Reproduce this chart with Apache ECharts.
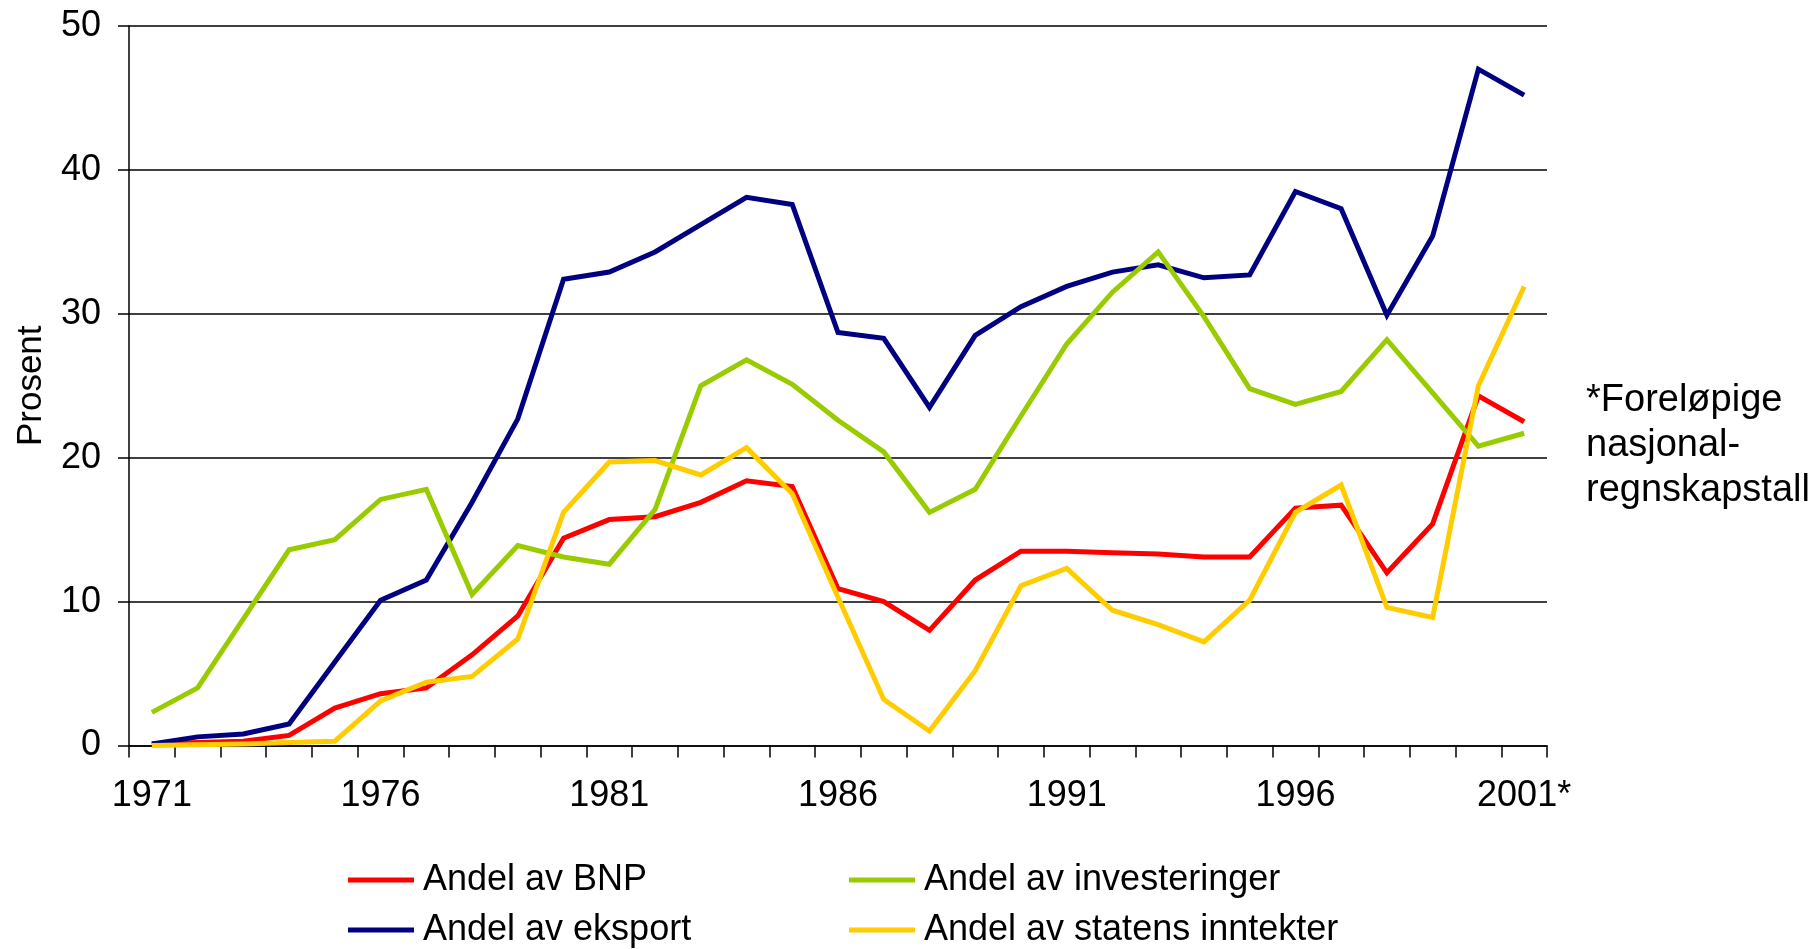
<!DOCTYPE html>
<html>
<head>
<meta charset="utf-8">
<title>Andeler</title>
<script src="https://cdn.jsdelivr.net/npm/echarts@6/dist/echarts.min.js"></script>
<style>
  html, body { margin: 0; padding: 0; background: #fff; }
  #chart { width: 1812px; height: 949px; }
</style>
</head>
<body>
<div id="chart"></div>
<script>
// år (siste er foreløpig)
const years = ['1971', '1972', '1973', '1974', '1975', '1976', '1977', '1978', '1979', '1980',
  '1981', '1982', '1983', '1984', '1985', '1986', '1987', '1988', '1989', '1990',
  '1991', '1992', '1993', '1994', '1995', '1996', '1997', '1998', '1999', '2000', '2001*']

const andelBnp = [0.1, 0.2, 0.3, 0.7, 2.6, 3.6, 4.0, 6.3, 9.0, 14.4,
  15.7, 15.9, 16.9, 18.4, 18.0, 10.9, 10.0, 8.0, 11.5, 13.5,
  13.5, 13.4, 13.3, 13.1, 13.1, 16.5, 16.7, 12.0, 15.4, 24.3, 22.5]

const andelEksport = [0.1, 0.6, 0.8, 1.5, 5.8, 10.1, 11.5, 16.9, 22.7, 32.4,
  32.9, 34.3, 36.2, 38.1, 37.6, 28.7, 28.3, 23.5, 28.5, 30.5,
  31.9, 32.9, 33.4, 32.5, 32.7, 38.5, 37.3, 29.9, 35.4, 47.0, 45.2]

const andelInvesteringer = [2.3, 4.0, 8.8, 13.6, 14.3, 17.1, 17.8, 10.5, 13.9, 13.1,
  12.6, 16.4, 25.0, 26.8, 25.1, 22.6, 20.4, 16.2, 17.8, 22.9,
  27.9, 31.5, 34.3, 29.8, 24.8, 23.7, 24.6, 28.2, 24.5, 20.8, 21.7]

const andelStatensInntekter = [0.0, 0.05, 0.1, 0.2, 0.3, 3.1, 4.4, 4.8, 7.4, 16.2,
  19.7, 19.8, 18.8, 20.7, 17.5, 10.3, 3.2, 1.0, 5.2, 11.1,
  12.3, 9.4, 8.4, 7.2, 10.1, 16.2, 18.1, 9.6, 8.9, 25.0, 31.9]

const fontFamily = "'Liberation Sans', Arial, sans-serif"
const fontSize = 36

const chart = echarts.init(document.getElementById('chart'))

const makeLine = (name, data, color) => ({
  name,
  type: 'line',
  data,
  showSymbol: false,
  symbol: 'none',
  lineStyle: { color, width: 5, join: 'miter' },
  itemStyle: { color }
})

// to kolonner, to rader
const legendBase = {
  orient: 'vertical',
  top: 860,
  height: 100,
  icon: 'rect',
  itemWidth: 66,
  itemHeight: 5,
  itemGap: 10,
  padding: 0,
  textStyle: {
    fontFamily,
    fontSize,
    lineHeight: 40,
    color: '#000',
    padding: [0, 0, 0, 4]
  }
}

const option = {
  animation: false,
  backgroundColor: '#fff',
  grid: {
    left: 129,
    right: 265,
    top: 26,
    bottom: 203.5
  },
  legend: [
    { ...legendBase, left: 348, data: ['Andel av BNP', 'Andel av eksport'] },
    { ...legendBase, left: 849, data: ['Andel av investeringer', 'Andel av statens inntekter'] }
  ],
  xAxis: {
    type: 'category',
    boundaryGap: true,
    data: years,
    axisLine: { lineStyle: { color: '#000', width: 1.5 } },
    axisTick: {
      show: true,
      interval: 0,
      length: 12,
      lineStyle: { color: '#000', width: 1.5 }
    },
    axisLabel: {
      interval: 4,
      margin: 33,
      fontFamily,
      fontSize,
      lineHeight: 36,
      color: '#000'
    },
    splitLine: { show: false }
  },
  yAxis: {
    type: 'value',
    min: 0,
    max: 50,
    interval: 10,
    name: 'Prosent',
    nameLocation: 'middle',
    nameGap: 80,
    nameTextStyle: { fontFamily, fontSize: 35, color: '#000' },
    axisLine: { show: true, lineStyle: { color: '#000', width: 1.5 } },
    axisTick: { show: true, length: 11, lineStyle: { color: '#000', width: 1.5 } },
    axisLabel: {
      margin: 28,
      fontFamily,
      fontSize,
      color: '#000'
    },
    splitLine: { show: true, lineStyle: { color: '#000', width: 1.5 } }
  },
  graphic: [
    {
      type: 'text',
      x: 1586,
      y: 378,
      style: {
        text: '*Foreløpige\nnasjonal-\nregnskapstall',
        font: `38px ${fontFamily}`,
        lineHeight: 45,
        fill: '#000',
        verticalAlign: 'top'
      }
    }
  ],
  series: [
    makeLine('Andel av BNP', andelBnp, '#ff0000'),
    makeLine('Andel av eksport', andelEksport, '#000080'),
    makeLine('Andel av investeringer', andelInvesteringer, '#99cc00'),
    makeLine('Andel av statens inntekter', andelStatensInntekter, '#ffcc00')
  ]
}

chart.setOption(option)
</script>
</body>
</html>
